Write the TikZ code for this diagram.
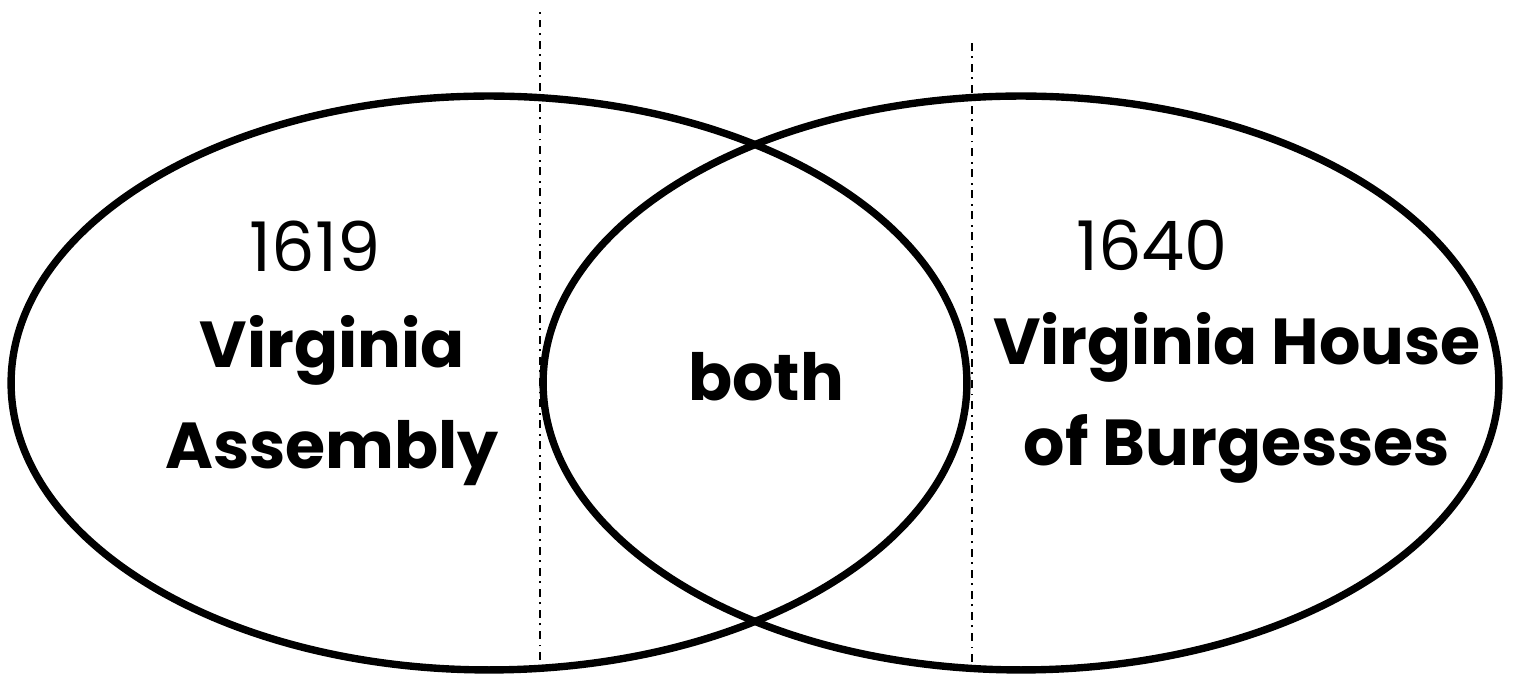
\documentclass[tikz,border=0pt]{standalone}
\usepackage{fontspec}
\setmainfont{Poppins}
\usetikzlibrary{positioning, shapes.geometric}

\begin{document}
\begin{tikzpicture}[
  x=0.02cm, y=0.02cm,
  every node/.style={inner sep=0pt},
  venn/.style={draw, ellipse, line width=4.2pt, minimum width=19.12cm, minimum height=11.48cm},
  divider/.style={line width=0.8pt, dash pattern=on 4.5pt off 3.2pt on 1.1pt off 3.2pt},
  year/.style={font=\fontsize{39}{46}\selectfont, anchor=base},
  title/.style={font=\fontsize{37}{58}\selectfont\bfseries, align=center, anchor=base}
]
\useasboundingbox (0,0) rectangle (1513,675);

% dividers behind the sets
\draw[divider] (540,15) -- (540,663);
\draw[divider] (972,13) -- (972,636);

% the two sets
\node[venn] (assembly) at (489,292) {};
\node[venn] (burgesses) at (1021,292) {};

% left set
\node[year] (y1619) at (315,403) {1619};
\node[title] (vassembly) at (332,206) {Virginia\\Assembly};

% overlap
\node[title] (both) at (766,274) {both};

% right set
\node[year] (y1640) at (1152,404) {1640};
\node[title] (vhouse) at (1237,209) {Virginia House\\of Burgesses};

\end{tikzpicture}
\end{document}
